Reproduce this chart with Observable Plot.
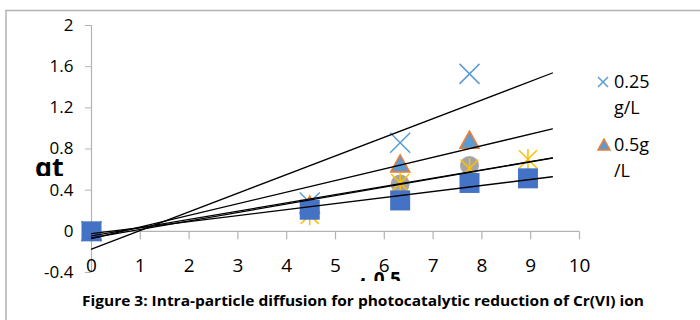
<!DOCTYPE html>
<html><head><meta charset="utf-8">
<script src="https://cdn.jsdelivr.net/npm/d3@7"></script>
<script src="https://cdn.jsdelivr.net/npm/@observablehq/plot@0.6"></script>
<style>
body{margin:0;background:#fff;}
#wrap{position:relative;width:700px;height:320px;overflow:hidden;background:#fff;}
#chart svg{display:block;overflow:hidden;}
#overlay{position:absolute;left:0;top:0;}
</style></head><body>
<div id="wrap"><div id="chart"></div>
<svg id="overlay" width="700" height="320">
  <defs>
    <clipPath id="cq"><rect x="0" y="0" width="90" height="176"/></clipPath>
    <clipPath id="ct"><rect x="0" y="0" width="700" height="281"/></clipPath>
  </defs>
  <path d="M6,320V10.5H700" fill="none" stroke="#b3b3b3" stroke-width="1.5"/>
  <g id="titles" font-family="'Open Sans'" font-weight="700" fill="#000"></g>
  <g id="legend" font-family="'Open Sans'" font-size="18" fill="#000"></g>
  <text id="caption" x="363" y="306" text-anchor="middle" font-family="'Open Sans'" font-weight="700" font-size="13.5" textLength="562" lengthAdjust="spacingAndGlyphs" fill="#000"></text>
</svg>
</div>
<script>
// sqrt(t) values on the x axis
const xVals = [0, 4.472, 6.325, 7.746, 8.944];
// qt values per series (null = no point)
const y025 = [0, 0.28, 0.86, 1.53, null];
const y05 = [0, 0.26, 0.66, 0.89, null];
const yGrey = [0, 0.21, 0.46, 0.64, null];
const yGold = [0, 0.16, 0.47, 0.61, 0.70];
const ySquare = [0, 0.21, 0.30, 0.47, 0.515];

const xTicks = [0, 1, 2, 3, 4, 5, 6, 7, 8, 9, 10];
const xTickLabels = ["0", "1", "2", "3", "4", "5", "6", "7", "8", "9", "10"];
const yTicks = [-0.4, 0, 0.4, 0.8, 1.2, 1.6, 2];
const yTickLabels = ["-0.4", "0", "0.4", "0.8", "1.2", "1.6", "2"];
const legendLabels = [["0.25", "g/L"], ["0.5g", "/L"]];
const yTitle = "qt";
const xTitleBase = "t";
const xTitleSup = "0.5";
const captionText = "Figure 3: Intra-particle diffusion for photocatalytic reduction of Cr(VI) ion";

const seriesIds = ["s025", "s05", "sGrey", "sGold", "sSquare"];
const seriesY = [y025, y05, yGrey, yGold, ySquare];

const sym = {
  times: h => ({draw(c){c.moveTo(-h,-h);c.lineTo(h,h);c.moveTo(h,-h);c.lineTo(-h,h);}}),
  star: h => ({draw(c){c.moveTo(-h,-h);c.lineTo(h,h);c.moveTo(h,-h);c.lineTo(-h,h);c.moveTo(0,-h*1.15);c.lineTo(0,h*1.15);}}),
  tri: (w, hh) => ({draw(c){c.moveTo(0,-hh);c.lineTo(w,hh);c.lineTo(-w,hh);c.closePath();}}),
  square: h => ({draw(c){c.rect(-h,-h,2*h,2*h);}}),
  circle: r => ({draw(c){c.moveTo(r,0);c.arc(0,0,r,0,2*Math.PI);}}),
  tickDown: l => ({draw(c){c.moveTo(0,0);c.lineTo(0,l);}})
};

const rows = seriesIds.map((s, k) => xVals.map((x, i) => ({s, x, y: seriesY[k][i]})).filter(d => d.y != null));

function fit(pts){
  const mx = d3.mean(pts, p => p.x), my = d3.mean(pts, p => p.y);
  const b = d3.sum(pts, p => (p.x - mx) * (p.y - my)) / d3.sum(pts, p => (p.x - mx) ** 2);
  return [b, my - b * mx];
}
const xStart = d3.min(xVals), xEnd = d3.max(xVals) + 0.5;
const trend = rows.flatMap(pts => {
  const [b, a] = fit(pts);
  return [xStart, xEnd].map(x => ({s: pts[0].s, x, y: a + b * x}));
});

const grey = "#b3b3b3";
const chart = Plot.plot({
  width: 700, height: 281,
  marginLeft: 91, marginRight: 121, marginTop: 25, marginBottom: 9,
  x: {domain: [0, 10], axis: null},
  y: {domain: [-0.4, 2]},
  style: {fontFamily: "'Open Sans'", fontSize: "17px", color: "#000", background: "#fff", overflow: "hidden"},
  marks: [
    Plot.ruleX([0], {stroke: grey, strokeWidth: 1.2}),
    Plot.ruleY([0], {stroke: grey, strokeWidth: 1.2}),
    Plot.axisY(yTicks, {tickSize: 6, tickPadding: 12, stroke: grey, fill: "#000", tickFormat: d => yTickLabels[yTicks.indexOf(d)], fontSize: 17, label: null}),
    Plot.dot(xTicks, {x: d => d, y: 0, symbol: sym.tickDown(8), stroke: grey, strokeWidth: 1.2, fill: "none"}),
    Plot.text(xTicks, {x: d => d, frameAnchor: "bottom", dy: -7, lineAnchor: "middle", text: (d, i) => xTickLabels[i], fontSize: 19, fill: "#000"}),
    Plot.dot(rows[0], {x: "x", y: "y", symbol: sym.times(10), stroke: "#5B9BD5", strokeWidth: 1.5, fill: "none"}),
    Plot.dot(rows[1], {x: "x", y: "y", symbol: sym.tri(9.5, 8.5), fill: "#5B9BD5", stroke: "#ED7D31", strokeWidth: 1.6}),
    Plot.dot(rows[2], {x: "x", y: "y", symbol: sym.circle(9.5), fill: "#A5A5A5", stroke: "none"}),
    Plot.dot(rows[3], {x: "x", y: "y", symbol: sym.star(9), stroke: "#FFC000", strokeWidth: 1.5, fill: "none"}),
    Plot.dot(rows[4], {x: "x", y: "y", symbol: sym.square(10), fill: "#4472C4", stroke: "none"}),
    Plot.line(trend, {x: "x", y: "y", z: "s", stroke: "#000", strokeWidth: 1.3})
  ]
});
document.getElementById("chart").appendChild(chart);

// axis titles (clipped as in the reference)
const ns = "http://www.w3.org/2000/svg";
const titles = document.getElementById("titles");
const tq = document.createElementNS(ns, "text");
tq.setAttribute("x", 35); tq.setAttribute("y", 177); tq.setAttribute("font-size", 27);
tq.setAttribute("clip-path", "url(#cq)"); tq.textContent = yTitle;
titles.appendChild(tq);
const tx = document.createElementNS(ns, "text");
tx.setAttribute("x", 358); tx.setAttribute("y", 296); tx.setAttribute("font-size", 27);
tx.setAttribute("clip-path", "url(#ct)");
const ts1 = document.createElementNS(ns, "tspan"); ts1.textContent = xTitleBase;
const ts2 = document.createElementNS(ns, "tspan"); ts2.textContent = xTitleSup;
ts2.setAttribute("font-size", 19); ts2.setAttribute("dy", -10); ts2.setAttribute("dx", 4);
tx.appendChild(ts1); tx.appendChild(ts2);
titles.appendChild(tx);

// legend (only the visible part)
const legend = document.getElementById("legend");
const legendY = [88, 151];
legendLabels.forEach((lines, k) => {
  const g = document.createElementNS(ns, "g");
  const m = document.createElementNS(ns, "path");
  const cy = legendY[k] - 6;
  if (k === 0) {
    m.setAttribute("d", `M598,${cy-5}L608,${cy+5}M608,${cy-5}L598,${cy+5}`);
    m.setAttribute("stroke", "#5B9BD5"); m.setAttribute("stroke-width", 1.5); m.setAttribute("fill", "none");
  } else {
    m.setAttribute("d", `M604,${cy-6}L610,${cy+5}L598,${cy+5}Z`);
    m.setAttribute("fill", "#5B9BD5"); m.setAttribute("stroke", "#ED7D31"); m.setAttribute("stroke-width", 1.5);
  }
  g.appendChild(m);
  lines.forEach((ln, j) => {
    const t = document.createElementNS(ns, "text");
    t.setAttribute("x", 614); t.setAttribute("y", legendY[k] + j * 26);
    t.textContent = ln; g.appendChild(t);
  });
  legend.appendChild(g);
});
document.getElementById("caption").textContent = captionText;
</script>
</body></html>
